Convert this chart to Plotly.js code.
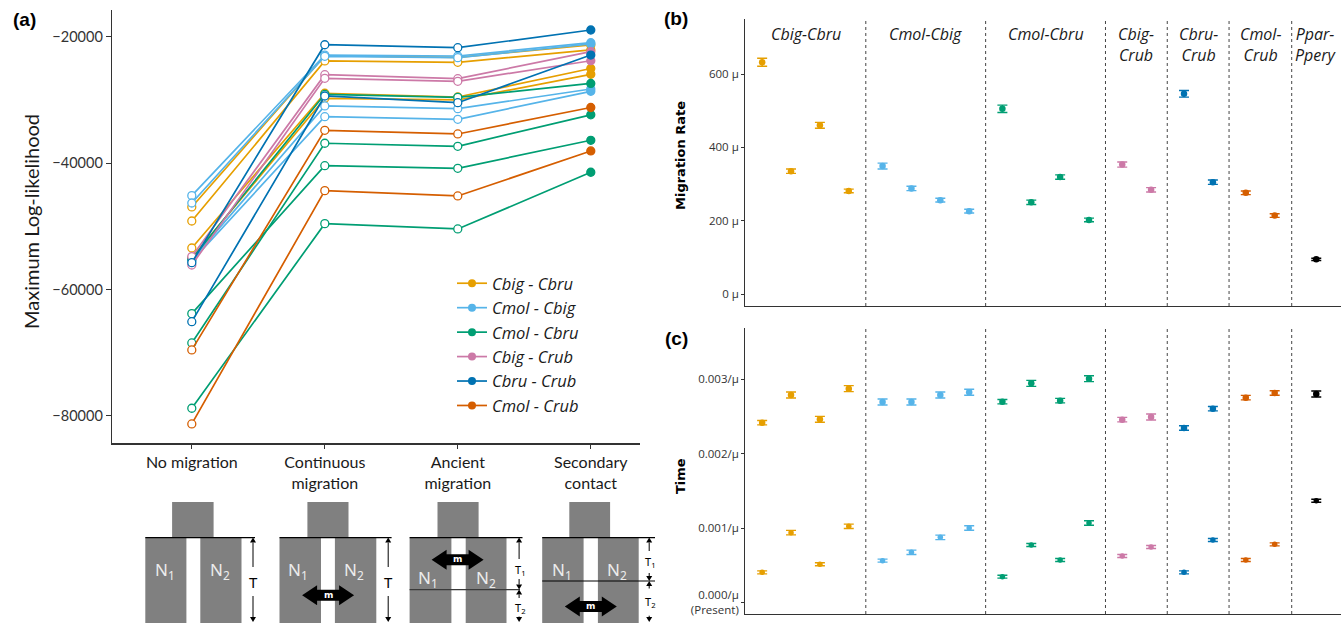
<!DOCTYPE html>
<html><head><meta charset="utf-8">
<script src="https://cdn.plot.ly/plotly-3.0.1.min.js"></script>
<style>html,body{margin:0;padding:0;background:#fff}#chart{width:1343px;height:623px}</style>
</head><body><div id="chart"></div>
<script>
// ---------- DATA ----------
const models = ['No migration', 'Continuous migration', 'Ancient migration', 'Secondary contact'];
const modelLabels = ['No migration', 'Continuous<br>migration', 'Ancient<br>migration', 'Secondary<br>contact'];
const pairs = ['Cbig - Cbru', 'Cmol - Cbig', 'Cmol - Cbru', 'Cbig - Crub', 'Cbru - Crub', 'Cmol - Crub'];

// Maximum log-likelihood per replicate (No migration, Continuous, Ancient, Secondary)
const llCbigCbru = [
  [-46940, -23010, -23260, -21310],
  [-49160, -23840, -24050, -22100],
  [-53430, -28950, -29540, -25030],
  [-55010, -29750, -30010, -25950]];
const llCmolCbig = [
  [-45150, -22900, -23050, -20950],
  [-46310, -23100, -23320, -21150],
  [-55330, -30960, -31390, -28270],
  [-55500, -32660, -33070, -28640]];
const llCmolCbru = [
  [-55170, -29110, -29590, -27400],
  [-68460, -36860, -37340, -32360],
  [-63820, -40410, -40820, -36390],
  [-78790, -49580, -50420, -41450]];
const llCbigCrub = [
  [-54800, -26010, -26640, -22370],
  [-56120, -26580, -27060, -23800]];
const llCbruCrub = [
  [-55750, -21270, -21740, -18940],
  [-65090, -29380, -30440, -22900]];
const llCmolCrub = [
  [-69560, -34810, -35390, -31200],
  [-81270, -44360, -45200, -38080]];

// Panels (b) and (c)
const facetLabels = ['Cbig-Cbru', 'Cmol-Cbig', 'Cmol-Cbru', 'Cbig-<br>Crub', 'Cbru-<br>Crub', 'Cmol-<br>Crub', 'Ppar-<br>Ppery'];
const migRate = [[632, 335, 460, 281], [349, 288, 256, 226], [505, 250, 319, 202], [353, 284], [546, 305], [276, 214], [94.5]];
const migRateErr = [[11, 6, 8, 5], [8, 6, 5, 5], [10, 6, 6, 5], [7, 6], [9, 6], [5, 5], [3]];
const timeUpper = [[0.002418, 0.00279, 0.002463, 0.002875], [0.002696, 0.002696, 0.00279, 0.002826],
  [0.0027, 0.002946, 0.002714, 0.003009], [0.002459, 0.002494], [0.002347, 0.002606], [0.002754, 0.002817], [0.002803]];
const timeUpperErr = [[0.00003, 0.00004, 0.00004, 0.00004], [0.00004, 0.00004, 0.00004, 0.00004],
  [0.00003, 0.00004, 0.00003, 0.00004], [0.00003, 0.00004], [0.00003, 0.00003], [0.00003, 0.00003], [0.00004]];
const timeLower = [[0.000409, 0.000942, 0.000517, 0.001027], [0.000566, 0.000678, 0.000879, 0.001004],
  [0.000351, 0.000776, 0.000575, 0.001072], [0.000629, 0.000749], [0.000409, 0.000843], [0.000575, 0.000785], [0.001371]];
const timeLowerErr = [[0.00002, 0.00003, 0.00002, 0.00003], [0.00002, 0.00003, 0.00003, 0.00003],
  [0.00002, 0.00002, 0.00002, 0.00003], [0.00002, 0.00002], [0.00002, 0.00002], [0.00002, 0.00002], [0.00002]];

// ---------- STYLE / LAYOUT HELPERS ----------
const W = 1343, H = 623;
const X = px => px / W;
const Y = py => 1 - py / H;
const pairColors = ['#E69F00', '#56B4E9', '#009E73', '#CC79A7', '#0072B2', '#D55E00'];
const facetColors = pairColors.concat(['#000000']);
const llSets = [llCbigCbru, llCmolCbig, llCmolCbru, llCbigCrub, llCbruCrub, llCmolCrub];

const traces = [];
// panel (a) lines
llSets.forEach((set, p) => {
  const c = pairColors[p];
  set.forEach(vals => {
    traces.push({
      x: models, y: vals, type: 'scatter', mode: 'lines+markers', xaxis: 'x', yaxis: 'y',
      line: { color: c, width: 1.7 },
      marker: { size: 8, color: vals.map((v, i) => i === vals.length - 1 ? c : '#ffffff'), line: { color: c, width: 1.3 } },
      showlegend: false, hoverinfo: 'skip'
    });
  });
});
// legend entries
pairs.forEach((name, p) => {
  traces.push({
    x: [null], y: [null], type: 'scatter', mode: 'lines+markers', xaxis: 'x', yaxis: 'y',
    name: '<i>' + name + '</i>', line: { color: pairColors[p], width: 1.7 },
    marker: { size: 8, color: pairColors[p] }, showlegend: true, hoverinfo: 'skip'
  });
});

// facet geometry for (b),(c)
const facetWidths = [4.17, 4.15, 4.15, 2.14, 2.14, 2.17, 1.7];
const facetStarts = [];
let acc = 0;
facetWidths.forEach(w => { facetStarts.push(acc); acc += w; });
const xTotal = acc;
const facetX = migRate.map((vals, f) => vals.map((v, i) =>
  vals.length === 1 ? facetStarts[f] + facetWidths[f] / 2 : facetStarts[f] + 0.58 + i));

migRate.forEach((vals, f) => {
  const c = facetColors[f];
  traces.push({
    x: facetX[f], y: vals, type: 'scatter', mode: 'markers', xaxis: 'x2', yaxis: 'y2',
    marker: { size: 6.5, color: c },
    error_y: { type: 'data', array: migRateErr[f], color: c, thickness: 1.4, width: 5 },
    showlegend: false, hoverinfo: 'skip'
  });
  traces.push({
    x: facetX[f], y: timeUpper[f], type: 'scatter', mode: 'markers', xaxis: 'x3', yaxis: 'y3',
    marker: { size: 6.5, color: c },
    error_y: { type: 'data', array: timeUpperErr[f], color: c, thickness: 1.4, width: 5 },
    showlegend: false, hoverinfo: 'skip'
  });
  traces.push({
    x: facetX[f], y: timeLower[f], type: 'scatter', mode: 'markers', xaxis: 'x3', yaxis: 'y3',
    marker: { size: 5.5, color: c },
    error_y: { type: 'data', array: timeLowerErr[f], color: c, thickness: 1.4, width: 5 },
    showlegend: false, hoverinfo: 'skip'
  });
});

// ---------- shapes & annotations ----------
const shapes = [];
const annotations = [];
const axisCol = '#333333';
function note(txt, x, y, font, extra) {
  annotations.push(Object.assign({ xref: 'paper', yref: 'paper', x: X(x), y: Y(y), xanchor: 'center', yanchor: 'middle',
    showarrow: false, text: txt, font: font }, extra || {}));
}

// facet dividers
for (let f = 1; f < facetStarts.length; f++) {
  [['x2', 19, 306], ['x3', 328, 614]].forEach(([xr, t, b]) => {
    shapes.push({ type: 'line', xref: xr, yref: 'paper', x0: facetStarts[f], x1: facetStarts[f],
      y0: Y(b), y1: Y(t), line: { color: '#444', width: 1, dash: '3px,3px' } });
  });
}
// strip labels
facetLabels.forEach((lab, f) => {
  annotations.push({ xref: 'x2', yref: 'paper', x: facetStarts[f] + facetWidths[f] / 2, y: Y(21),
    xanchor: 'center', yanchor: 'top', showarrow: false, text: '<i>' + lab + '</i>',
    font: { family: 'Open Sans', size: 16, color: '#1a1a1a' } });
});

// panel labels & titles
[['(a)', 24, 20], ['(b)', 676, 19], ['(c)', 676, 338]].forEach(([t, x, y]) => {
  note('<b>' + t + '</b>', x, y, { family: 'Liberation Sans', size: 19, color: '#000' });
});
note('Maximum Log-likelihood', 31, 222, { family: 'Lato', size: 20, color: '#1a1a1a' }, { textangle: -90 });
note('<b>Migration Rate</b>', 680, 156, { family: 'DejaVu Sans', size: 13, color: '#000' }, { textangle: -90 });
note('<b>Time</b>', 680, 476, { family: 'DejaVu Sans', size: 13, color: '#000' }, { textangle: -90 });

// ---------- schematic diagrams ----------
const grey = '#808080';
function rect(x0, y0, x1, y1) {
  shapes.push({ type: 'rect', xref: 'paper', yref: 'paper', x0: X(x0), x1: X(x1), y0: Y(y1), y1: Y(y0),
    fillcolor: grey, line: { width: 0 }, layer: 'below' });
}
function hline(x0, x1, y, col) {
  shapes.push({ type: 'line', xref: 'paper', yref: 'paper', x0: X(x0), x1: X(x1), y0: Y(y), y1: Y(y),
    line: { color: col || '#000', width: 1.2 } });
}
function poly(pts, col) {
  const d = 'M' + pts.map(p => X(p[0]) + ',' + Y(p[1])).join(' L') + ' Z';
  shapes.push({ type: 'path', xref: 'paper', yref: 'paper', path: d, fillcolor: col, line: { width: 0 } });
}
function vArrow(x, tail, head) {
  const dir = head > tail ? 1 : -1;
  const hl = 5, hw = 3;
  shapes.push({ type: 'line', xref: 'paper', yref: 'paper', x0: X(x), x1: X(x), y0: Y(tail), y1: Y(head - dir * hl),
    line: { color: '#000', width: 1 } });
  poly([[x - hw, head - dir * hl], [x + hw, head - dir * hl], [x, head]], '#000');
}
function mArrow(cx, cy) {
  const L = 52, hl = 15, hh = 10, sh = 5.5;
  const l = cx - L / 2, r = cx + L / 2;
  poly([[l, cy], [l + hl, cy - hh], [l + hl, cy - sh], [r - hl, cy - sh], [r - hl, cy - hh], [r, cy],
    [r - hl, cy + hh], [r - hl, cy + sh], [l + hl, cy + sh], [l + hl, cy + hh]], '#000');
  note('<b>m</b>', cx, cy - 0.5, { family: 'DejaVu Sans', size: 9, color: '#fff' });
}
function label(txt, x, y, size, col) {
  note(txt, x, y, { family: 'Noto Sans', size: size, color: col });
}
const bottom = 623, topLine = 537.6, ancTop = 501.9;
const nLab = 'N<sub>1</sub>', nLab2 = 'N<sub>2</sub>', nCol = '#ececec';
// D1 No migration
rect(172.1, ancTop, 213.6, topLine); rect(145.3, topLine, 186.4, bottom); rect(200.3, topLine, 241.5, bottom);
hline(145.3, 255, topLine);
label(nLab, 165, 570, 17, nCol); label(nLab2, 220, 570, 17, nCol);
vArrow(253, 567, topLine); vArrow(253, 596, 622); label('T', 253, 581.7, 15, '#000');
// D2 Continuous migration
rect(307.4, ancTop, 348.5, topLine); rect(279.5, topLine, 321, bottom); rect(334.9, topLine, 376.3, bottom);
hline(279.5, 391.6, topLine);
label(nLab, 298, 570, 17, nCol); label(nLab2, 354, 570, 17, nCol);
mArrow(328.1, 595.3);
vArrow(388.2, 567, topLine); vArrow(388.2, 596, 622); label('T', 388.2, 581.7, 15, '#000');
// D3 Ancient migration
rect(437.5, ancTop, 478.6, topLine); rect(409.6, topLine, 451.4, bottom); rect(465.7, topLine, 506.5, bottom);
hline(409.6, 522.5, topLine); hline(409.6, 520, 589.6, '#3a3a3a');
mArrow(457.6, 559.7);
label(nLab, 428, 578.5, 17, nCol); label(nLab2, 486, 578.5, 17, nCol);
vArrow(519.1, 559, topLine); vArrow(519.1, 579, 589.6); label('T<sub>1</sub>', 520, 569.5, 11, '#000');
vArrow(519.1, 598, 589.6); vArrow(519.1, 616.5, 622); label('T<sub>2</sub>', 520, 607.5, 11, '#000');
// D4 Secondary contact
rect(569.3, ancTop, 610.1, topLine); rect(542.2, topLine, 583.6, bottom); rect(597.9, topLine, 638.7, bottom);
hline(542.2, 655, topLine); hline(542.2, 655, 581);
label(nLab, 562, 570, 17, nCol); label(nLab2, 617, 570, 17, nCol);
mArrow(590.8, 606.5);
vArrow(649.2, 551, topLine); vArrow(649.2, 573, 581); label('T<sub>1</sub>', 650, 562, 11, '#000');
vArrow(649.2, 588.5, 581); vArrow(649.2, 615.7, 622); label('T<sub>2</sub>', 650, 602, 11, '#000');

// ---------- layout ----------
const layout = {
  width: W, height: H, margin: { l: 0, r: 0, t: 0, b: 0 }, paper_bgcolor: '#fff', plot_bgcolor: 'rgba(0,0,0,0)',
  showlegend: true, hovermode: false,
  legend: { x: X(452), y: Y(266), xanchor: 'left', yanchor: 'top', bgcolor: 'rgba(0,0,0,0)',
    font: { family: 'Open Sans', size: 16.5, color: '#1a1a1a' }, tracegroupgap: 0 },
  xaxis: { domain: [X(112), X(640)], anchor: 'y', type: 'category', categoryarray: models, categoryorder: 'array',
    range: [-0.6, 3.37], tickvals: models, ticktext: modelLabels, ticks: 'outside', ticklen: 4, tickcolor: axisCol,
    showline: true, linecolor: axisCol, linewidth: 1.3, showgrid: false, zeroline: false,
    tickfont: { family: 'Lato', size: 16, color: '#1a1a1a' } },
  yaxis: { domain: [Y(443.3), Y(10)], anchor: 'x', range: [-84335, -15775], tickvals: [-80000, -60000, -40000, -20000],
    tickformat: 'd', ticks: 'outside', ticklen: 5, tickcolor: axisCol, showline: true, linecolor: axisCol, linewidth: 1.3,
    showgrid: false, zeroline: false, tickfont: { family: 'Lato', size: 14.5, color: '#333' } },
  xaxis2: { domain: [X(745.4), X(1340.8)], anchor: 'y2', range: [0, xTotal], showticklabels: false, ticks: '',
    showline: true, linecolor: axisCol, linewidth: 1.3, showgrid: false, zeroline: false },
  yaxis2: { domain: [Y(306), Y(19)], anchor: 'x2', range: [-32.7, 750], tickvals: [0, 200, 400, 600],
    ticktext: ['0 μ', '200 μ', '400 μ', '600 μ'], ticks: 'outside', ticklen: 3, tickcolor: axisCol,
    showline: true, linecolor: axisCol, linewidth: 1.3, showgrid: false, zeroline: false,
    tickfont: { family: 'Open Sans', size: 11.5, color: '#333' } },
  xaxis3: { domain: [X(745.4), X(1340.8)], anchor: 'y3', range: [0, xTotal], showticklabels: false, ticks: '',
    showline: true, linecolor: axisCol, linewidth: 1.3, showgrid: false, zeroline: false },
  yaxis3: { domain: [Y(614), Y(328.3)], anchor: 'x3', range: [-0.00015, 0.003685], tickvals: [0, 0.001, 0.002, 0.003],
    ticktext: ['0.000/μ<br>(Present)', '0.001/μ', '0.002/μ', '0.003/μ'], ticks: 'outside', ticklen: 3, tickcolor: axisCol,
    showline: true, linecolor: axisCol, linewidth: 1.3, showgrid: false, zeroline: false,
    tickfont: { family: 'Open Sans', size: 11.5, color: '#333' } },
  shapes: shapes, annotations: annotations
};
Plotly.newPlot('chart', traces, layout, { staticPlot: true, displayModeBar: false });
</script></body></html>
